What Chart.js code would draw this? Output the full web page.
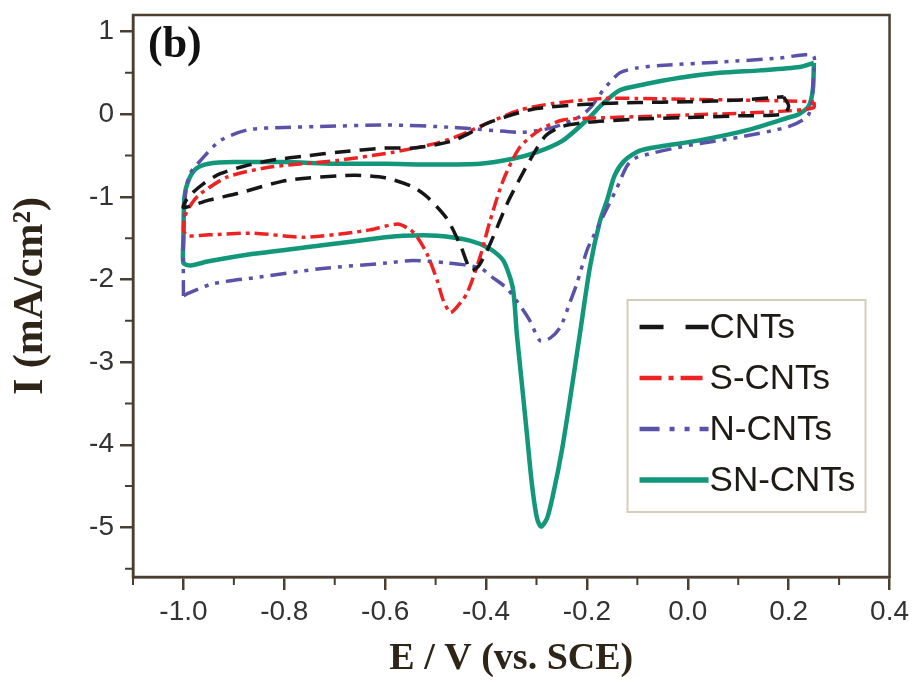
<!DOCTYPE html>
<html><head><meta charset="utf-8">
<script src="https://cdn.jsdelivr.net/npm/chart.js@4.4.1/dist/chart.umd.min.js"></script>
<style>html,body{margin:0;padding:0;background:#fff}canvas{display:block}</style>
</head><body>
<canvas id="c" width="914" height="682"></canvas>
<script>
// ---- data: [E (V vs SCE), I (mA/cm2)] ----
const seriesLabels = ["CNTs", "S-CNTs", "N-CNTs", "SN-CNTs"];
const xTickValues = [-1.0, -0.8, -0.6, -0.4, -0.2, 0.0, 0.2, 0.4];
const yTickValues = [1, 0, -1, -2, -3, -4, -5];

const cnts = [
  [0.19,0.21],[0.2,0.1],[0.19,0.0],[0.1,-0.02],[0.0,-0.04],[-0.1,-0.06],[-0.2,-0.1],[-0.25,-0.15],
  [-0.28,-0.25],[-0.3,-0.42],[-0.333,-0.78],[-0.358,-1.08],[-0.392,-1.57],[-0.415,-1.84],[-0.43,-1.89],
  [-0.45,-1.6],[-0.477,-1.27],[-0.517,-1.0],[-0.545,-0.88],[-0.6,-0.77],[-0.663,-0.74],[-0.794,-0.8],
  [-0.893,-0.96],[-0.95,-1.04],[-1.0,-1.13],
  [-0.99,-1.0],[-0.96,-0.84],[-0.927,-0.72],[-0.88,-0.63],[-0.828,-0.56],[-0.75,-0.5],[-0.695,-0.46],
  [-0.6,-0.41],[-0.545,-0.41],[-0.5,-0.37],[-0.465,-0.32],[-0.43,-0.22],[-0.398,-0.11],[-0.36,-0.03],
  [-0.333,0.02],[-0.3,0.07],[-0.2,0.12],[-0.1,0.14],[0.0,0.15],[0.1,0.17],[0.19,0.21]
];
const sCnts = [
  [0.25,0.15],[0.25,0.08],[0.2,0.04],[0.1,0.01],[0.0,-0.01],[-0.1,-0.03],[-0.2,-0.05],[-0.248,-0.07],
  [-0.293,-0.19],[-0.333,-0.4],[-0.366,-0.8],[-0.392,-1.29],[-0.412,-1.73],[-0.438,-2.17],[-0.46,-2.35],
  [-0.471,-2.4],[-0.485,-2.25],[-0.497,-2.01],[-0.517,-1.69],[-0.535,-1.5],[-0.55,-1.4],[-0.576,-1.33],
  [-0.63,-1.4],[-0.663,-1.43],[-0.762,-1.49],[-0.861,-1.44],[-0.95,-1.46],[-0.992,-1.47],[-1.0,-1.4],
  [-0.995,-1.2],[-0.98,-1.05],[-0.966,-0.96],[-0.913,-0.76],[-0.828,-0.64],[-0.695,-0.56],[-0.584,-0.46],
  [-0.497,-0.35],[-0.45,-0.25],[-0.398,-0.11],[-0.333,0.05],[-0.267,0.13],[-0.168,0.19],[-0.1,0.19],
  [0.0,0.18],[0.1,0.17],[0.2,0.16],[0.25,0.15]
];
const nCnts = [
  [-1.0,-2.2],[-1.0,-1.5],[-0.995,-0.9],[-0.985,-0.7],[-0.966,-0.56],[-0.927,-0.32],[-0.873,-0.19],
  [-0.8,-0.16],[-0.729,-0.15],[-0.596,-0.13],[-0.465,-0.16],[-0.333,-0.22],[-0.3,-0.2],[-0.267,-0.16],
  [-0.214,-0.03],[-0.19,0.1],[-0.168,0.29],[-0.135,0.5],[-0.1,0.56],[-0.055,0.59],[0.063,0.63],
  [0.182,0.68],[0.232,0.72],[0.25,0.7],
  [0.25,0.5],[0.24,0.0],[0.2,-0.15],[0.1,-0.28],[0.0,-0.38],[-0.1,-0.52],[-0.12,-0.62],[-0.141,-0.9],
  [-0.165,-1.2],[-0.188,-1.49],[-0.2,-1.65],[-0.22,-2.05],[-0.235,-2.3],[-0.253,-2.58],[-0.273,-2.71],
  [-0.293,-2.74],[-0.313,-2.5],[-0.339,-2.26],[-0.36,-2.1],[-0.386,-1.98],[-0.412,-1.86],[-0.477,-1.8],
  [-0.545,-1.77],[-0.596,-1.8],[-0.729,-1.87],[-0.861,-1.98],[-0.941,-2.05],[-0.992,-2.17],[-1.0,-2.2]
];
const snCnts = [
  [0.25,0.62],[0.248,0.3],[0.24,0.1],[0.22,0.0],[0.2,-0.04],[0.12,-0.19],[0.02,-0.32],[-0.055,-0.39],
  [-0.095,-0.44],[-0.125,-0.56],[-0.145,-0.74],[-0.16,-1.04],[-0.174,-1.29],[-0.194,-1.85],[-0.214,-2.66],
  [-0.234,-3.47],[-0.25,-4.08],[-0.267,-4.6],[-0.279,-4.89],[-0.291,-4.99],[-0.299,-4.89],[-0.309,-4.48],
  [-0.319,-3.87],[-0.329,-3.26],[-0.339,-2.66],[-0.347,-2.1],[-0.366,-1.77],[-0.392,-1.63],[-0.432,-1.53],
  [-0.497,-1.47],[-0.564,-1.47],[-0.6,-1.49],[-0.729,-1.59],[-0.861,-1.69],[-0.95,-1.78],[-0.986,-1.83],
  [-1.0,-1.8],[-1.0,-1.5],[-0.998,-1.0],[-0.99,-0.8],[-0.975,-0.66],[-0.95,-0.6],[-0.9,-0.58],[-0.8,-0.58],
  [-0.7,-0.6],[-0.6,-0.6],[-0.5,-0.61],[-0.412,-0.6],[-0.347,-0.54],[-0.299,-0.46],[-0.248,-0.32],
  [-0.2,-0.07],[-0.168,0.13],[-0.135,0.29],[-0.095,0.35],[-0.016,0.44],[0.063,0.5],[0.143,0.53],
  [0.222,0.57],[0.25,0.62]
];

const seriesData = [cnts, sCnts, nCnts, snCnts];
const seriesColors = ["#161616", "#ee2222", "#5a52a8", "#12977a"];
const seriesDash = [[16, 9], [14, 5, 4, 5], [16, 7, 4, 7, 4, 7], []];
const legendDash = [[24, 22], [22, 7, 5, 7], [20, 10, 5, 10, 5, 10], []];
const seriesWidth = [3.5, 3.5, 3.5, 4.5];

const axisColor = "#4a3e30";
const textColor = "#2e2418";

const datasets = seriesLabels.map((lab, i) => ({
  label: lab,
  data: seriesData[i].map(p => ({ x: p[0], y: p[1] })),
  showLine: true,
  borderColor: seriesColors[i],
  backgroundColor: seriesColors[i],
  borderDash: seriesDash[i],
  borderWidth: seriesWidth[i],
  pointRadius: 0,
  tension: 0.25,
  fill: false
}));

const decorPlugin = {
  id: "decor",
  afterDraw(chart) {
    const { ctx, chartArea: a, scales } = chart;
    ctx.save();
    // frame
    ctx.strokeStyle = axisColor;
    ctx.lineWidth = 2.5;
    ctx.strokeRect(a.left, a.top, a.right - a.left, a.bottom - a.top);
    // minor ticks
    ctx.lineWidth = 2;
    ctx.beginPath();
    for (let k = -11; k <= 3; k += 2) {
      const px = scales.x.getPixelForValue(k / 10);
      ctx.moveTo(px, a.bottom); ctx.lineTo(px, a.bottom + 8);
    }
    for (let k = -11; k <= 1; k += 2) {
      const py = scales.y.getPixelForValue(k / 2);
      ctx.moveTo(a.left, py); ctx.lineTo(a.left - 8, py);
    }
    ctx.stroke();
    // panel label
    ctx.fillStyle = "#111";
    ctx.font = "bold 44px 'Liberation Serif'";
    ctx.textBaseline = "middle";
    ctx.textAlign = "left";
    ctx.fillText("(b)", a.left + 15, a.top + 31);
    // legend
    const bx = a.right - 262, by = a.top + 285, bw = 238, bh = 212;
    ctx.fillStyle = "#fff";
    ctx.fillRect(bx, by, bw, bh);
    ctx.strokeStyle = "#d6ccb8";
    ctx.lineWidth = 2;
    ctx.strokeRect(bx, by, bw, bh);
    chart.data.datasets.forEach((ds, i) => {
      const cy = by + 27 + i * 51;
      ctx.strokeStyle = ds.borderColor;
      ctx.lineWidth = ds.borderWidth + 1;
      ctx.setLineDash(legendDash[i]);
      ctx.beginPath();
      ctx.moveTo(bx + 12, cy); ctx.lineTo(bx + 81, cy);
      ctx.stroke();
      ctx.setLineDash([]);
      ctx.fillStyle = "#1e1a14";
      ctx.font = "35px 'Liberation Sans'";
      ctx.textAlign = "left";
      ctx.fillText(ds.label, bx + 82, cy + 1);
    });
    ctx.restore();
  }
};

new Chart(document.getElementById("c"), {
  type: "scatter",
  data: { datasets },
  options: {
    responsive: false,
    animation: false,
    devicePixelRatio: 1,
    layout: { padding: { left: 0, right: 24, top: 15, bottom: 0 } },
    plugins: { legend: { display: false }, tooltip: { enabled: false } },
    scales: {
      x: {
        type: "linear", min: -1.1, max: 0.4,
        afterBuildTicks: s => { s.ticks = xTickValues.map(v => ({ value: v })); },
        afterFit: s => { s.height = 105; },
        ticks: {
          font: { family: "'Liberation Sans'", size: 28 }, color: "#333",
          padding: 5, maxRotation: 0, autoSkip: false,
          callback: v => Number(v).toFixed(1)
        },
        grid: { drawOnChartArea: false, tickLength: 13, color: axisColor, lineWidth: 2.5 },
        border: { color: axisColor, width: 2.5 },
        title: {
          display: true, text: "E / V (vs. SCE)", color: textColor,
          font: { family: "'Liberation Serif'", weight: "bold", size: 38 },
          padding: { top: 0, bottom: 0 }
        }
      },
      y: {
        type: "linear", min: -5.6, max: 1.2,
        afterBuildTicks: s => { s.ticks = yTickValues.map(v => ({ value: v })); },
        afterFit: s => { s.width = 133; },
        ticks: {
          font: { family: "'Liberation Sans'", size: 28, lineHeight: 0.5 }, color: "#333",
          padding: 6, autoSkip: false,
          callback: v => String(v)
        },
        grid: { drawOnChartArea: false, tickLength: 13, color: axisColor, lineWidth: 2.5 },
        border: { color: axisColor, width: 2.5 },
        title: {
          display: true, text: "I (mA/cm²)", color: textColor,
          font: { family: "'Liberation Serif'", weight: "bold", size: 42 },
          padding: { top: 6, bottom: 0 }
        }
      }
    }
  },
  plugins: [decorPlugin]
});
</script>
</body></html>
